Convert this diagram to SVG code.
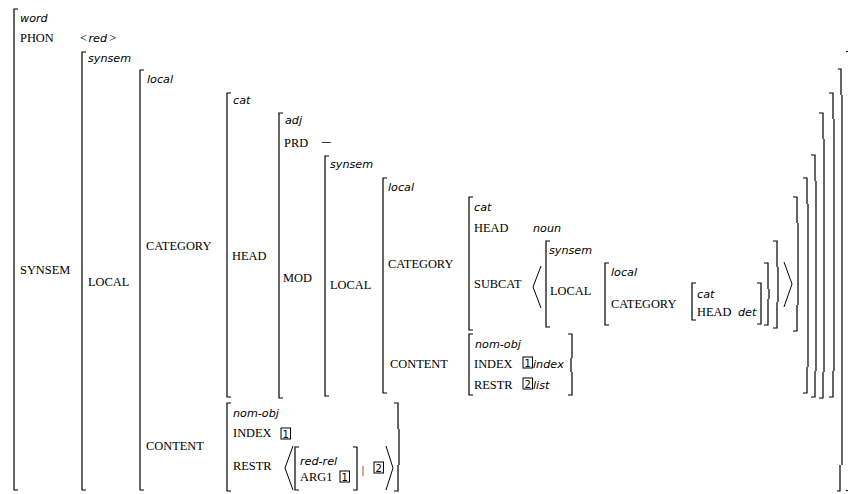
<svg xmlns="http://www.w3.org/2000/svg" width="848" height="494" viewBox="0 0 848 494">
<style>
.b{fill:none;stroke:#000;stroke-width:1.2}
.a{fill:none;stroke:#000;stroke-width:1}
.t{font-family:"DejaVu Sans",sans-serif;font-style:italic;font-size:11.2px;fill:#000}
.f{font-family:"Liberation Serif",serif;font-size:12.4px;fill:#000}
.n{font-family:"DejaVu Sans",sans-serif;font-size:10px;fill:#000;text-anchor:middle}
.bx{fill:none;stroke:#000;stroke-width:1}
</style>
<rect width="848" height="494" fill="#fff"/>

<!-- left brackets of the feature structures -->
<g id="left-brackets" class="b">
<path d="M18 9H14V490H18"/>
<path d="M86 52H82V490H86"/>
<path d="M144 70H140V490H144"/>
<path d="M231 93H227V397H231"/>
<path d="M283 113H279V398H283"/>
<path d="M329 156H325V396H329"/>
<path d="M387 178H383V393H387"/>
<path d="M473 197H469V330H473"/>
<path d="M550 241H546V327H550"/>
<path d="M609 263H605V325H609"/>
<path d="M696 283H692V320H696"/>
<path d="M473 334H469V395H473"/>
<path d="M231 403H227V491H231"/>
<path d="M299 447H295V490H299"/>
</g>

<!-- right brackets, built from offset extension pieces -->
<g id="right-brackets" class="b">
<path d="M394 403H398V429M399 429V465M398 465V491H394"/>
<path d="M353 447H357V490H353"/>
<path d="M568 334H572V358M571 358V372M572 372V395H568"/>
<path d="M757 283H761V324H757"/>
<path d="M764 263H768V289M769 289V299M768 299V325H764"/>
<path d="M773 241H777V267M778 267V302M777 302V328H773"/>
<path d="M793 197H797V223M798 223V305M797 305V331H793"/>
<path d="M803 178H807V204M808 204V367M807 367V393H803"/>
<path d="M811 155H815V181M816 181V371M815 371V397H811"/>
<path d="M819 113H823V139M824 139V372M823 372V398H819"/>
<path d="M829 93H833V119M834 119V371M833 371V397H829"/>
<path d="M838 69H841V95M842 95V465M840 465V491H837"/>
<path d="M846 51.5H848M846 490.5H848"/>
</g>

<!-- list delimiters -->
<g id="angles" class="a">
<path d="M541 266L533 287L541 308"/>
<path d="M784 262L792 284L784 307"/>
<path d="M293 446L285 468L293 490"/>
<path d="M386 446L393 468L386 490"/>
</g>

<!-- structure sharing tags -->
<g id="tags">
<rect class="bx" x="281" y="428" width="9.5" height="11"/>
<text class="n" x="285.8" y="437.5">1</text>
<rect class="bx" x="340" y="471" width="9.5" height="11"/>
<text class="n" x="344.8" y="480.5">1</text>
<rect class="bx" x="374" y="462" width="9.5" height="11"/>
<text class="n" x="378.8" y="471.5">2</text>
<rect class="bx" x="523" y="357" width="9.5" height="11"/>
<text class="n" x="527.8" y="366.5">1</text>
<rect class="bx" x="523" y="378" width="9.5" height="11"/>
<text class="n" x="527.8" y="387.5">2</text>
</g>

<!-- types -->
<g id="types">
<text class="t" x="20" y="22">word</text>
<text class="t" x="88" y="62">synsem</text>
<text class="t" x="147" y="83">local</text>
<text class="t" x="233" y="104">cat</text>
<text class="t" x="285" y="124">adj</text>
<text class="t" x="330" y="168">synsem</text>
<text class="t" x="388" y="191">local</text>
<text class="t" x="474" y="211">cat</text>
<text class="t" x="533" y="232">noun</text>
<text class="t" x="549" y="254">synsem</text>
<text class="t" x="611" y="276">local</text>
<text class="t" x="697" y="298">cat</text>
<text class="t" x="738" y="316">det</text>
<text class="t" x="475" y="348">nom-obj</text>
<text class="t" x="533" y="368">index</text>
<text class="t" x="533" y="389">list</text>
<text class="t" x="233" y="417">nom-obj</text>
<text class="t" x="300" y="465">red-rel</text>
<text class="f" x="80" y="42" style="font-size:13px">&lt;</text>
<text class="t" x="88.5" y="42">red</text>
<text class="f" x="109" y="42" style="font-size:13px">&gt;</text>
<text class="f" x="321" y="146.5" style="font-size:14px" textLength="11" lengthAdjust="spacingAndGlyphs">−</text>
<text style="font-family:'Liberation Sans',sans-serif;font-size:11px;fill:#666" x="361.5" y="474">|</text>
</g>

<!-- features -->
<g id="features">
<text class="f" x="20" y="42">PHON</text>
<text class="f" x="20" y="274">SYNSEM</text>
<text class="f" x="88" y="286">LOCAL</text>
<text class="f" x="146" y="250">CATEGORY</text>
<text class="f" x="232" y="260">HEAD</text>
<text class="f" x="284" y="147">PRD</text>
<text class="f" x="283" y="282">MOD</text>
<text class="f" x="330" y="289">LOCAL</text>
<text class="f" x="388" y="268">CATEGORY</text>
<text class="f" x="474" y="232">HEAD</text>
<text class="f" x="474" y="288">SUBCAT</text>
<text class="f" x="550" y="295">LOCAL</text>
<text class="f" x="611" y="308">CATEGORY</text>
<text class="f" x="697" y="316">HEAD</text>
<text class="f" x="390" y="368">CONTENT</text>
<text class="f" x="474" y="368">INDEX</text>
<text class="f" x="474" y="389">RESTR</text>
<text class="f" x="146" y="450">CONTENT</text>
<text class="f" x="233" y="437">INDEX</text>
<text class="f" x="233" y="470">RESTR</text>
<text class="f" x="300" y="481">ARG1</text>
</g>
</svg>
